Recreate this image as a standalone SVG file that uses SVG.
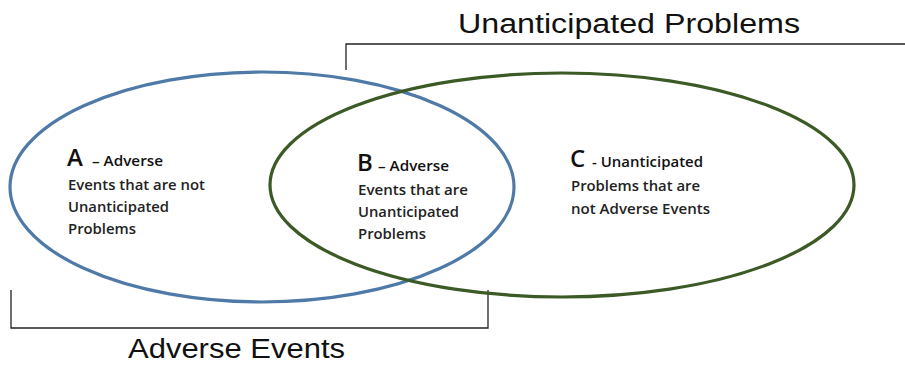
<svg xmlns="http://www.w3.org/2000/svg" width="905" height="365" viewBox="0 0 905 365">
<style>
.lbl{font-family:"Open Sans","Liberation Sans",Arial,sans-serif;fill:#111}
.t{font-size:14px;font-weight:600;fill:#222}
.big{font-size:24px;font-weight:600;fill:#111}
.sm{font-size:14px;font-weight:600}
.ttl{font-family:"Liberation Sans",Arial,sans-serif;font-size:27px;fill:#111}
.br{fill:none;stroke:#222;stroke-width:1.3}
</style>
<rect width="905" height="365" fill="#fff"/>
<g id="connectors">
<path class="br" d="M346,70 V44 H905"/>
<path class="br" d="M11,290 V328 H488 V290"/>
</g>
<g id="setAE">
<ellipse cx="262" cy="187" rx="252" ry="115" fill="none" stroke="#4f7aa8" stroke-width="3.2"/>
</g>
<g id="setUP">
<ellipse cx="562" cy="185" rx="292" ry="112" fill="none" stroke="#3b5a26" stroke-width="3.2"/>
</g>
<g id="titleUP"><text class="ttl" x="458" y="33" textLength="342" lengthAdjust="spacingAndGlyphs">Unanticipated Problems</text></g>
<g id="titleAE"><text class="ttl" x="128" y="358" textLength="217" lengthAdjust="spacingAndGlyphs">Adverse Events</text></g>
<g id="regionA" class="lbl">
<text class="big" x="67" y="166">A</text>
<text class="sm" x="92" y="166" textLength="71" lengthAdjust="spacingAndGlyphs">– Adverse</text>
<text class="t" x="68" y="190" textLength="137" lengthAdjust="spacingAndGlyphs">Events that are not</text>
<text class="t" x="68" y="212" textLength="101" lengthAdjust="spacingAndGlyphs">Unanticipated</text>
<text class="t" x="68" y="234" textLength="68" lengthAdjust="spacingAndGlyphs">Problems</text>
</g>
<g id="regionB" class="lbl">
<text class="big" x="357" y="171">B</text>
<text class="sm" x="378" y="171" textLength="71" lengthAdjust="spacingAndGlyphs">– Adverse</text>
<text class="t" x="358" y="195" textLength="110" lengthAdjust="spacingAndGlyphs">Events that are</text>
<text class="t" x="358" y="217" textLength="101" lengthAdjust="spacingAndGlyphs">Unanticipated</text>
<text class="t" x="358" y="239" textLength="68" lengthAdjust="spacingAndGlyphs">Problems</text>
</g>
<g id="regionC" class="lbl">
<text class="big" x="570" y="167">C</text>
<text class="sm" x="592" y="167" textLength="111" lengthAdjust="spacingAndGlyphs">- Unanticipated</text>
<text class="t" x="571" y="191" textLength="129" lengthAdjust="spacingAndGlyphs">Problems that are</text>
<text class="t" x="571" y="214" textLength="139" lengthAdjust="spacingAndGlyphs">not Adverse Events</text>
</g>
</svg>
